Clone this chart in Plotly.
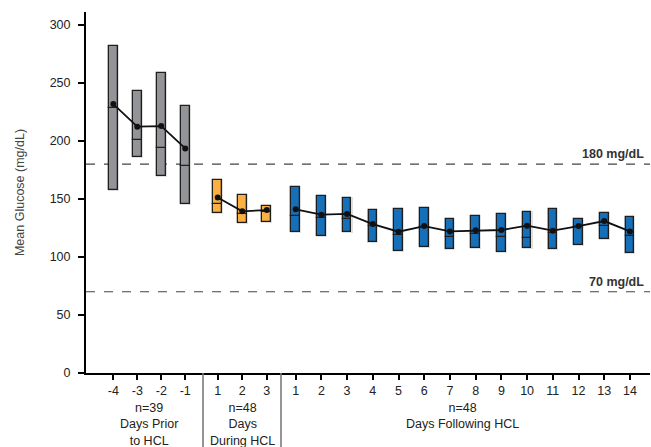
import plotly.graph_objects as go

# ---------------- data ----------------
prior_days = ["-4", "-3", "-2", "-1"]
prior_high = [281.7, 242.6, 258.1, 230.2]
prior_low = [157.6, 186.3, 169.9, 145.8]
prior_median = [228.0, 200.7, 193.5, 178.6]
prior_mean = [231.7, 212.2, 212.7, 193.5]

during_days = ["1", "2", "3"]
during_high = [166.0, 153.1, 143.8]
during_low = [137.8, 129.5, 130.3]
during_median = [145.6, 137.0, 139.0]
during_mean = [151.2, 139.3, 140.4]

after_days = [str(d) for d in range(1, 15)]
after_high = [160.5, 152.5, 150.5, 140.4, 141.0, 141.8, 132.4, 135.2, 136.7, 138.9, 141.0, 132.4, 137.5, 134.6]
after_low = [121.2, 118.3, 121.2, 112.6, 105.4, 108.8, 107.1, 107.4, 104.0, 107.4, 106.5, 110.0, 115.7, 103.6]
after_median = [135.2, 133.8, 132.4, 127.0, 118.6, 126.0, 116.9, 119.4, 117.4, 116.0, 120.3, 126.0, 126.4, 118.3]
after_mean = [141.0, 136.4, 137.0, 128.3, 121.7, 126.6, 122.0, 122.9, 123.2, 126.9, 122.6, 126.6, 130.9, 122.0]

group_labels = ["n=39<br>Days Prior<br>to HCL", "n=48<br>Days<br>During HCL", "n=48<br>Days Following HCL"]
thresholds = [180, 70]
threshold_labels = ["180 mg/dL", "70 mg/dL"]
y_ticks = [0, 50, 100, 150, 200, 250, 300]

# ---------------- layout constants ----------------
W, H = 651, 447
ML, MR, MT, MB = 86, 1, 12, 74
PW = W - ML - MR
PH = H - MT - MB
Y_MAX = 311
dividers_px = [203, 281]
bounds_px = [ML, dividers_px[0], dividers_px[1], W - MR]
ranges = [[-1.14, 3.74], [-0.6, 2.58], [-0.57, 13.78]]
BOX_PX = 8.6
FONT = "Liberation Sans, Arial, sans-serif"

colors = ["#939497", "#fbb041", "#1670b9"]
groups = [
    (prior_days, prior_high, prior_low, prior_median, prior_mean),
    (during_days, during_high, during_low, during_median, during_mean),
    (after_days, after_high, after_low, after_median, after_mean),
]

fig = go.Figure()
px_per_unit_y = PH / Y_MAX

for gi, (days, hi, lo, med, mean) in enumerate(groups):
    xa = "x" if gi == 0 else f"x{gi + 1}"
    dom_px = bounds_px[gi + 1] - bounds_px[gi]
    step_px = dom_px / (ranges[gi][1] - ranges[gi][0])
    bw = BOX_PX / step_px
    halo_w = (BOX_PX + 2.4) / step_px
    halo_pad = 1.0 / px_per_unit_y
    idx = list(range(len(days)))
    # halo
    fig.add_trace(go.Bar(
        x=idx, base=[l - halo_pad for l in lo], y=[h - l + 2 * halo_pad for h, l in zip(hi, lo)],
        width=halo_w, marker=dict(color="rgba(160,160,160,0.35)", line=dict(width=0)),
        xaxis=xa, yaxis="y", showlegend=False, hoverinfo="skip"))
    # lower part of box
    fig.add_trace(go.Bar(
        x=idx, base=lo, y=[m - l for m, l in zip(med, lo)], width=bw,
        marker=dict(color=colors[gi], line=dict(color="#1e1e1e", width=1.3)),
        xaxis=xa, yaxis="y", showlegend=False))
    # upper part of box
    fig.add_trace(go.Bar(
        x=idx, base=med, y=[h - m for h, m in zip(hi, med)], width=bw,
        marker=dict(color=colors[gi], line=dict(color="#1e1e1e", width=1.3)),
        xaxis=xa, yaxis="y", showlegend=False))
    # mean
    fig.add_trace(go.Scatter(
        x=idx, y=mean, mode="lines+markers",
        line=dict(color="#111111", width=1.8),
        marker=dict(color="#111111", size=6),
        xaxis=xa, yaxis="y", showlegend=False))

axis_common = dict(
    showline=True, linecolor="#000000", linewidth=2,
    ticks="outside", ticklen=5, tickwidth=2, tickcolor="#000000",
    showgrid=False, zeroline=False,
    tickfont=dict(family=FONT, size=12.5, color="#222222"),
)
layout_axes = {}
for gi, days in enumerate([prior_days, during_days, after_days]):
    name = "xaxis" if gi == 0 else f"xaxis{gi + 1}"
    d0 = (bounds_px[gi] - ML) / PW
    d1 = (bounds_px[gi + 1] - ML) / PW
    layout_axes[name] = dict(
        axis_common, domain=[d0, d1], range=ranges[gi], anchor="y",
        tickmode="array", tickvals=list(range(len(days))), ticktext=days)

fig.update_layout(
    width=W, height=H,
    margin=dict(l=ML, r=MR, t=MT, b=MB, pad=0),
    plot_bgcolor="white", paper_bgcolor="white",
    barmode="overlay", bargap=0,
    font=dict(family=FONT, size=12.5, color="#222222"),
    yaxis=dict(
        range=[0, Y_MAX], anchor="x", domain=[0, 1],
        showline=True, linecolor="#000000", linewidth=2,
        ticks="outside", ticklen=6, tickwidth=2, tickcolor="#000000",
        tickvals=y_ticks, showgrid=False, zeroline=False,
        ticklabelstandoff=5,
        tickfont=dict(family=FONT, size=12.5, color="#222222"),
        title=dict(text="Mean Glucose (mg/dL)", standoff=22,
                   font=dict(family=FONT, size=12.5, color="#444444")),
    ),
    **layout_axes,
)

# threshold dashed lines and labels
for t, lab in zip(thresholds, threshold_labels):
    fig.add_shape(type="line", xref="paper", yref="y", x0=0, x1=1, y0=t, y1=t,
                  line=dict(color="#444444", width=1.2, dash="dash"), layer="below")
    fig.add_annotation(xref="paper", yref="y", x=(646 - ML) / PW, y=t,
                       xanchor="right", yanchor="bottom", yshift=1,
                       text=f"<b>{lab}</b>", showarrow=False,
                       font=dict(family=FONT, size=12.5, color="#333333"))

# group dividers below the axis
for dpx in dividers_px:
    xp = (dpx - ML) / PW
    fig.add_shape(type="line", xref="paper", yref="paper", x0=xp, x1=xp,
                  y0=0, y1=-(H - MT - PH) / PH, line=dict(color="#7a7a7a", width=1.6))

# group labels
for gi, lab in enumerate(group_labels):
    xa = "x" if gi == 0 else f"x{gi + 1}"
    n = len(groups[gi][0])
    fig.add_annotation(xref=xa, yref="paper", x=(n - 1) / 2, y=-(399 - (MT + PH)) / PH,
                       xanchor="center", yanchor="top", text=lab, showarrow=False,
                       align="center",
                       font=dict(family=FONT, size=12.5, color="#222222"))

fig.write_html("out.html",
               config={"displayModeBar": False},
               post_script="document.body.style.margin='0';document.body.style.overflow='hidden';")
